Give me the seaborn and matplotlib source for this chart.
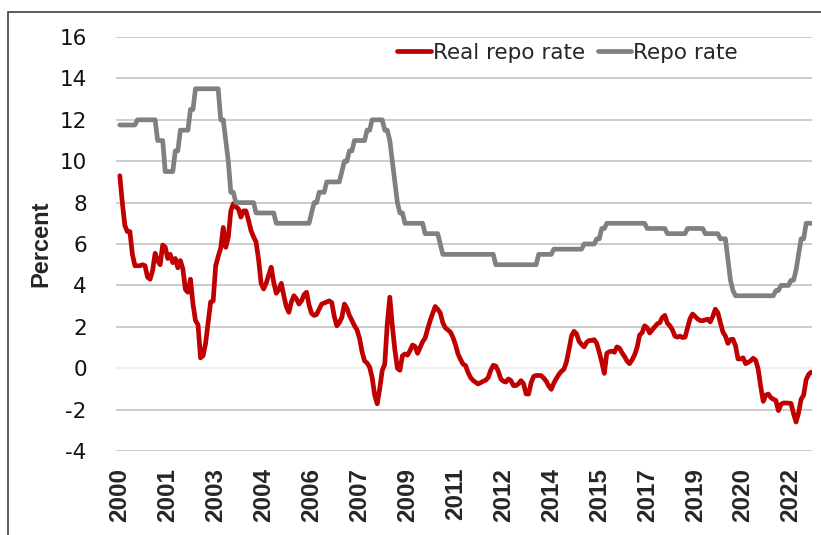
import numpy as np
import pandas as pd
import seaborn as sns
from matplotlib import pyplot as plt
from matplotlib.patches import Rectangle

# monthly values from Jan 2000, one row per year
real_repo = [
    9.3, 8.0, 6.9, 6.6, 6.6, 5.5, 4.95, 4.95, 4.95, 5.0, 4.95, 4.4,
    4.3, 4.72, 5.55, 5.2, 5.0, 5.95, 5.85, 5.3, 5.5, 5.1, 5.3, 4.85,
    5.2, 4.8, 3.8, 3.67, 4.3, 3.1, 2.3, 2.1, 0.5, 0.6, 1.2, 2.2,
    3.2, 3.25, 4.95, 5.4, 5.8, 6.8, 5.84, 6.33, 7.6, 7.95, 7.8, 7.7,
    7.3, 7.6, 7.6, 7.15, 6.65, 6.35, 6.1, 5.25, 4.1, 3.83, 4.1, 4.5,
    4.88, 4.15, 3.62, 3.8, 4.1, 3.5, 2.97, 2.7, 3.2, 3.5, 3.35, 3.1,
    3.25, 3.55, 3.67, 3.05, 2.65, 2.55, 2.6, 2.85, 3.1, 3.15, 3.2, 3.25,
    3.17, 2.5, 2.05, 2.2, 2.45, 3.1, 2.9, 2.55, 2.3, 2.05, 1.85, 1.45,
    0.8, 0.35, 0.25, 0.05, -0.45, -1.3, -1.72, -1.0, -0.11, 0.2, 2.14, 3.43,
    2.05, 0.9, 0.0, -0.1, 0.6, 0.69, 0.63, 0.85, 1.12, 1.05, 0.72, 1.0,
    1.28, 1.45, 1.9, 2.3, 2.65, 2.98, 2.85, 2.67, 2.2, 1.95, 1.85, 1.75,
    1.5, 1.15, 0.7, 0.43, 0.2, 0.13, -0.2, -0.45, -0.59, -0.68, -0.76, -0.7,
    -0.63, -0.58, -0.45, -0.1, 0.14, 0.1, -0.15, -0.52, -0.63, -0.67, -0.52, -0.6,
    -0.84, -0.84, -0.75, -0.6, -0.75, -1.24, -1.25, -0.7, -0.4, -0.35, -0.35, -0.36,
    -0.48, -0.63, -0.86, -1.02, -0.72, -0.5, -0.3, -0.15, -0.05, 0.3, 0.9, 1.55,
    1.78, 1.66, 1.3, 1.15, 1.03, 1.25, 1.34, 1.34, 1.38, 1.2, 0.77, 0.3,
    -0.25, 0.72, 0.8, 0.82, 0.77, 1.03, 0.97, 0.75, 0.57, 0.35, 0.22, 0.4,
    0.64, 1.0, 1.6, 1.72, 2.05, 1.95, 1.7, 1.85, 2.0, 2.14, 2.2, 2.45,
    2.55, 2.18, 2.05, 1.85, 1.55, 1.5, 1.55, 1.48, 1.5, 1.95, 2.4, 2.62,
    2.5, 2.38, 2.3, 2.3, 2.33, 2.37, 2.24, 2.5, 2.85, 2.68, 2.2, 1.75,
    1.55, 1.2, 1.38, 1.4, 1.08, 0.45, 0.45, 0.5, 0.22, 0.28, 0.36, 0.48,
    0.38, -0.05, -0.9, -1.6, -1.3, -1.25, -1.42, -1.5, -1.56, -2.05, -1.75, -1.68,
    -1.68, -1.69, -1.7, -2.2, -2.6, -2.15, -1.5, -1.3, -0.55, -0.3, -0.19,
]

repo = [
    11.75, 11.75, 11.75, 11.75, 11.75, 11.75, 11.75, 12, 12, 12, 12, 12,
    12, 12, 12, 11, 11, 11, 9.5, 9.5, 9.5, 9.5, 10.5, 10.5,
    11.5, 11.5, 11.5, 11.5, 12.5, 12.5, 13.5, 13.5, 13.5, 13.5, 13.5, 13.5,
    13.5, 13.5, 13.5, 13.5, 12, 12, 11, 10, 8.5, 8.5, 8, 8,
    8, 8, 8, 8, 8, 8, 7.5, 7.5, 7.5, 7.5, 7.5, 7.5,
    7.5, 7.5, 7, 7, 7, 7, 7, 7, 7, 7, 7, 7,
    7, 7, 7, 7, 7.5, 8, 8, 8.5, 8.5, 8.5, 9, 9,
    9, 9, 9, 9, 9.5, 10, 10, 10.5, 10.5, 11, 11, 11,
    11, 11, 11.5, 11.5, 12, 12, 12, 12, 12, 11.5, 11.5, 11,
    10, 9, 8, 7.5, 7.5, 7, 7, 7, 7, 7, 7, 7,
    7, 6.5, 6.5, 6.5, 6.5, 6.5, 6.5, 6, 5.5, 5.5, 5.5, 5.5,
    5.5, 5.5, 5.5, 5.5, 5.5, 5.5, 5.5, 5.5, 5.5, 5.5, 5.5, 5.5,
    5.5, 5.5, 5.5, 5.5, 5.5, 5, 5, 5, 5, 5, 5, 5,
    5, 5, 5, 5, 5, 5, 5, 5, 5, 5, 5.5, 5.5,
    5.5, 5.5, 5.5, 5.5, 5.75, 5.75, 5.75, 5.75, 5.75, 5.75, 5.75, 5.75,
    5.75, 5.75, 5.75, 5.75, 6, 6, 6, 6, 6, 6.25, 6.25, 6.75,
    6.75, 7, 7, 7, 7, 7, 7, 7, 7, 7, 7, 7,
    7, 7, 7, 7, 7, 6.75, 6.75, 6.75, 6.75, 6.75, 6.75, 6.75,
    6.75, 6.5, 6.5, 6.5, 6.5, 6.5, 6.5, 6.5, 6.5, 6.75, 6.75, 6.75,
    6.75, 6.75, 6.75, 6.75, 6.5, 6.5, 6.5, 6.5, 6.5, 6.5, 6.25, 6.25,
    6.25, 5.25, 4.25, 3.75, 3.5, 3.5, 3.5, 3.5, 3.5, 3.5, 3.5, 3.5,
    3.5, 3.5, 3.5, 3.5, 3.5, 3.5, 3.5, 3.5, 3.75, 3.75, 4, 4,
    4, 4, 4.25, 4.25, 4.75, 5.5, 6.25, 6.25, 7, 7, 7,
]

year_labels = ['2000', '2001', '2003', '2004', '2006', '2007', '2009', '2011',
               '2012', '2014', '2015', '2017', '2019', '2020', '2022']
label_step = 19  # one label every 19 months

df = pd.DataFrame({'Real repo rate': pd.Series(real_repo),
                   'Repo rate': pd.Series(repo)})
df['month'] = np.arange(len(df))
long = df.melt(id_vars='month', var_name='series', value_name='rate')

sns.set_style('white')
plt.rcParams['font.family'] = ['DejaVu Sans']
plt.rcParams['axes.unicode_minus'] = False

fig = plt.figure(figsize=(8.21, 5.35), dpi=100)
ax = fig.add_axes([0.1413, 0.157, 0.8477, 0.7738])

sns.lineplot(data=long, x='month', y='rate', hue='series',
             palette={'Real repo rate': '#C00000', 'Repo rate': '#808080'},
             linewidth=3.4, ax=ax, legend=True)

ax.set_xlim(-1.5, len(df) - 0.7)
ax.set_ylim(-4, 16)
ax.set_yticks(np.arange(-4, 17, 2))
ax.yaxis.grid(True, color='#BFBFBF', linewidth=1.1)
ax.xaxis.grid(False)
ax.set_axisbelow(True)
for val, gl in zip(ax.get_yticks(), ax.get_ygridlines()):
    if val == 0:
        gl.set_color('#EFEFEF')
        gl.set_linewidth(1.6)

for s in ax.spines.values():
    s.set_visible(False)

ax.tick_params(axis='both', length=0)
ax.tick_params(axis='y', labelsize=15.5, pad=21, labelcolor='#111111')

tick_pos = np.arange(len(year_labels)) * label_step
ax.set_xticks(tick_pos)
ax.set_xticklabels(year_labels, rotation=90, fontsize=17.5, fontweight='bold',
                   family=['Liberation Sans', 'DejaVu Sans'])
ax.tick_params(axis='x', pad=12)

ax.set_xlabel('')
ax.set_ylabel('Percent', fontsize=17, fontweight='bold',
              family=['Liberation Sans', 'DejaVu Sans'], labelpad=5)

handles, labels = ax.get_legend_handles_labels()
ax.legend(handles, labels, ncol=2, frameon=False, fontsize=15.5,
          loc='center left', bbox_to_anchor=(0.484, 0.901),
          bbox_transform=fig.transFigure, handlelength=1.55,
          handletextpad=0.1, columnspacing=0.6, borderpad=0, borderaxespad=0)
for h in ax.get_legend().get_lines():
    h.set_linewidth(3.4)

# outer chart frame (top and left edges visible)
fig.patches.append(Rectangle((8 / 821, -0.2), 1.2, 1.2 - 12 / 535,
                             transform=fig.transFigure, fill=False,
                             edgecolor='#404040', linewidth=1.2))

fig.savefig('out.png', dpi=100)
